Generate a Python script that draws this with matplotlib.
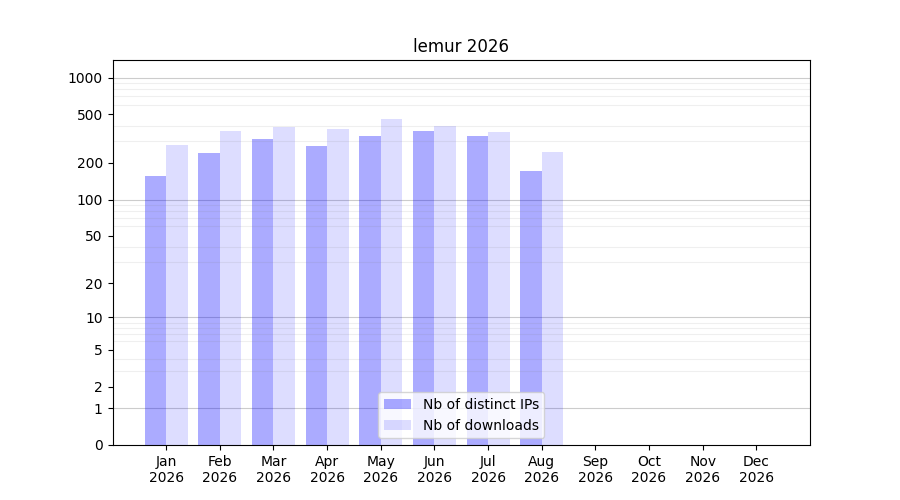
import numpy as np
import matplotlib
matplotlib.use('Agg')
import matplotlib.pyplot as plt
from matplotlib.ticker import FixedLocator, NullFormatter

# Monthly stats
months = ['Jan', 'Feb', 'Mar', 'Apr', 'May', 'Jun',
          'Jul', 'Aug', 'Sep', 'Oct', 'Nov', 'Dec']
year = 2026
distinct_ips = [155, 240, 312, 273, 330, 363, 330, 170, 0, 0, 0, 0]
downloads = [278, 363, 391, 377, 455, 399, 356, 248, 0, 0, 0, 0]
y_ticks = [0, 1, 2, 5, 10, 20, 50, 100, 200, 500, 1000]


# log10(1+x) scale so that zero can be shown
def forward(x):
    return np.log10(1 + np.maximum(x, 0))


def inverse(y):
    return 10 ** y - 1


fig, ax = plt.subplots(figsize=(9, 5), dpi=100)
x = np.arange(len(months))
width = 0.4

ax.bar(x - width / 2, distinct_ips, width, color='blue', alpha=0.33,
       label='Nb of distinct IPs')
ax.bar(x + width / 2, downloads, width, color='blue', alpha=0.135,
       label='Nb of downloads')

ax.set_yscale('function', functions=(forward, inverse))
ax.set_ylim(0, 1390)
ax.set_xlim(-1, 12)

ax.yaxis.set_major_locator(FixedLocator(y_ticks))
ax.set_yticklabels([str(v) for v in y_ticks])
minor = [m * 10 ** k for k in range(0, 4) for m in range(2, 10)]
ax.yaxis.set_minor_locator(FixedLocator(minor))
ax.yaxis.set_minor_formatter(NullFormatter())
ax.tick_params(axis='y', which='minor', length=0)

# darker lines at decades, light ones elsewhere
for v in [1, 10, 100, 1000]:
    ax.axhline(v, color='gray', alpha=0.4, linewidth=0.8, zorder=0.5)
ax.grid(axis='y', which='minor', color='gray', alpha=0.12, linewidth=0.8)

ax.set_xticks(x)
ax.set_xticklabels(['%s\n%d' % (m, year) for m in months])
ax.set_title('lemur %d' % year)
ax.legend(loc='lower center')

plt.savefig('out.png')
